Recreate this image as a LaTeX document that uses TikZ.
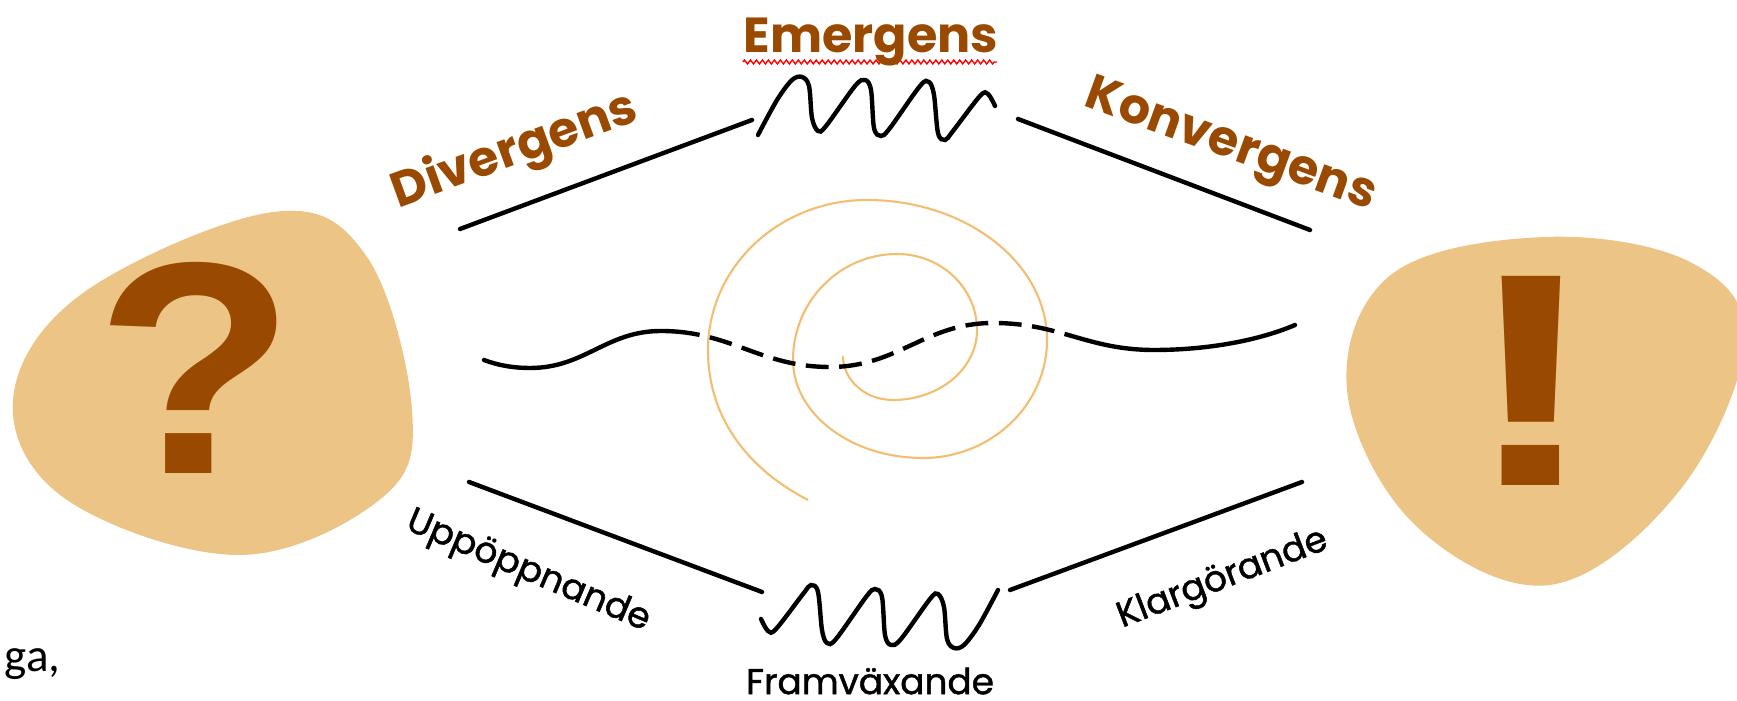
\documentclass[tikz,border=0pt]{standalone}
\usepackage{fontspec}
\usetikzlibrary{decorations.pathmorphing}
\newfontfamily\comicfont{Poppins}
\newfontfamily\comiclabel[FakeBold=1.3]{Poppins}
\newfontfamily\signfont{Liberation Sans}
\newfontfamily\slidefont{Carlito}
\definecolor{blob}{HTML}{ECC486}
\definecolor{rust}{HTML}{994A00}
\definecolor{swirl}{HTML}{F3BE72}
\tikzset{
    title/.style={text=rust, inner sep=0pt, font=\comicfont\bfseries\fontsize{14}{16}\selectfont},
    phase/.style={inner sep=0pt, font=\comiclabel\fontsize{10.2}{12}\selectfont},
    glyph/.style={text=rust, inner sep=0pt, font=\signfont\bfseries},
    stroke/.style={line width=1.25pt, line cap=round},
}

\begin{document}
\begin{tikzpicture}[x=0.01cm, y=-0.01cm]
            \useasboundingbox (0,0) rectangle (1737,701);
            \clip (0,0) rectangle (1737,701);

            \fill[blob] plot[smooth cycle, tension=0.62] coordinates {
                (273,212) (367,257) (412,410) (383,497)
                (240,555) (67,500) (13,400) (83,293)};
            \fill[blob] plot[smooth cycle, tension=0.62] coordinates {
                (1545,237) (1690,262) (1745,340) (1680,490)
                (1550,585) (1415,525) (1347,390) (1392,274)};

            \node[glyph] (question) at (196,368) {\resizebox{2.0cm}{2.11cm}{?}};
            \node[glyph] (exclaim)  at (1532,381) {\resizebox{1.36cm}{2.09cm}{!}};

            \draw[swirl, line width=0.6pt] (843,356)
                .. controls (843,380) and (865,400) .. (893,400)
                .. controls (939,400) and (977,369) .. (977,330)
                .. controls (977,288) and (941,254) .. (897,254)
                .. controls (840,254) and (793,301) .. (793,360)
                .. controls (793,414) and (851,458) .. (923,458)
                .. controls (991,458) and (1047,405) .. (1047,340)
                .. controls (1047,263) and (966,200) .. (867,200)
                .. controls (779,200) and (708,267) .. (708,350)
                .. controls (708,420) and (750,470) .. (808,500);

            \def\midline{(484,360) .. controls (500,366) and (515,368) .. (530,368)
                .. controls (585,368) and (606,331) .. (661,331)
                .. controls (731,331) and (760,367) .. (830,367)
                .. controls (898,367) and (925,323) .. (993,323)
                .. controls (1060,323) and (1087,350) .. (1154,350)
                .. controls (1209,350) and (1260,340) .. (1295,325)}
            \begin{scope}
                \clip (0,0) rectangle (690,701) (1075,0) rectangle (1737,701);
                \draw[stroke] \midline;
            \end{scope}
            \begin{scope}
                \clip (690,0) rectangle (1075,701);
                \draw[stroke, line cap=butt, dash pattern=on 6.5pt off 3pt] \midline;
            \end{scope}

            \coordinate (divL) at (460,229);
            \coordinate (divR) at (752,120);
            \coordinate (konL) at (1018,119);
            \coordinate (konR) at (1310,230);
            \coordinate (uppL) at (469,482);
            \coordinate (uppR) at (762,592);
            \coordinate (klaL) at (1010,590);
            \coordinate (klaR) at (1302,482);
            \draw[stroke] (divL) -- (divR)
                          (konL) -- (konR)
                          (uppL) -- (uppR)
                          (klaL) -- (klaR);

            \draw[stroke] plot[smooth, tension=0.55] coordinates {
                (758,135) (777,100) (792,80) (802,77) (809,86) (812,118) (818,131)
                (826,126) (855,86) (865,80) (871,90) (874,128) (881,136) (890,128)
                (920,86) (929,82) (934,95) (938,133) (945,140) (953,131) (980,96)
                (988,94) (995,106)};
            \draw[stroke, rotate around={180:(878,362.5)}] plot[smooth, tension=0.55] coordinates {
                (758,135) (777,100) (792,80) (802,77) (809,86) (812,118) (818,131)
                (826,126) (855,86) (865,80) (871,90) (874,128) (881,136) (890,128)
                (920,86) (929,82) (934,95) (938,133) (945,140) (953,131) (980,96)
                (988,94) (995,106)};

            \draw[red, line width=0.4pt, decorate,
                  decoration={zigzag, segment length=1.7pt, amplitude=0.55pt}]
                  (743,62) -- (997,62);
            \node[title] (emergens) at (871,42) {Emergens};
            \node[title, rotate=20] (divergens) at (515,152) {Divergens};
            \node[title, rotate=-20] (konvergens) at (1230,148) {Konvergens};
            \node[phase, rotate=-23] (uppoppnande) at (528,572) {Uppöppnande};
            \node[phase, rotate=21] (klargorande) at (1223,580) {Klargörande};
            \node[phase] (framvaxande) at (870,681) {Framväxande};
            \node[anchor=base west, inner sep=0pt, font=\slidefont\fontsize{13.4}{16}\selectfont] (ga) at (4,672) {ga,};
\end{tikzpicture}
\end{document}
